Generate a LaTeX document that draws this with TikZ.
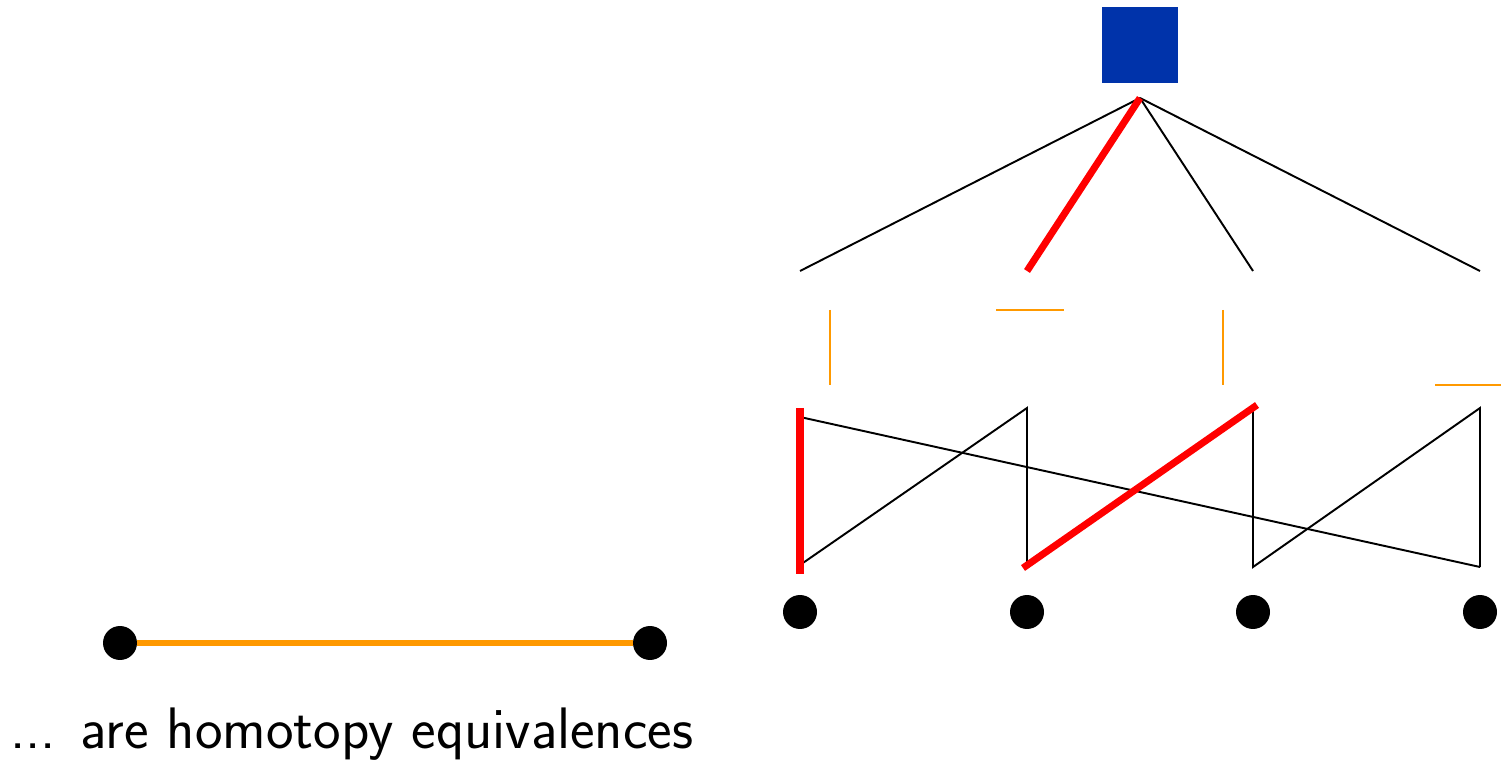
\documentclass[tikz,border=0pt]{standalone}
\definecolor{sqblue}{RGB}{0,51,170}
\definecolor{hor}{RGB}{255,153,0}
\tikzset{
  edge/.style={draw=black, line width=1.1pt},
  redge/.style={draw=red, line width=4pt},
  oedge/.style={draw=hor, line width=1.2pt},
  obig/.style={draw=hor, line width=3.4pt},
  dot/.style={circle, fill=black, minimum size=0.68cm, inner sep=0pt},
  sq/.style={rectangle, fill=sqblue, minimum size=1.52cm, inner sep=0pt},
}
\begin{document}
\begin{tikzpicture}[x=0.02cm, y=-0.02cm]
\useasboundingbox (0,0) rectangle (1501,763);
% top square and apex
\node[sq] (top) at (1140,45) {};
\coordinate (apex) at (1140,98);
% tops of upper edges
\coordinate (u1) at (800,271);
\coordinate (u2) at (1027,271);
\coordinate (u3) at (1253,271);
\coordinate (u4) at (1480,271);
\draw[edge] (apex) -- (u1);
\draw[edge] (apex) -- (u3);
\draw[edge] (apex) -- (u4);
\draw[redge] (apex) -- (u2);
% orange segments
\coordinate (o1a) at (830,310); \coordinate (o1b) at (830,385);
\coordinate (o2a) at (996,310); \coordinate (o2b) at (1064,310);
\coordinate (o3a) at (1223,310); \coordinate (o3b) at (1223,385);
\coordinate (o4a) at (1435,385); \coordinate (o4b) at (1501,385);
\draw[oedge] (o1a) -- (o1b);
\draw[oedge] (o2a) -- (o2b);
\draw[oedge] (o3a) -- (o3b);
\draw[oedge] (o4a) -- (o4b);
% lower zigzag
\coordinate (a1) at (800,417); \coordinate (b1) at (800,565);
\coordinate (a2) at (1027,408); \coordinate (b2) at (1027,567);
\coordinate (a3) at (1253,408); \coordinate (b3) at (1253,567);
\coordinate (a4) at (1480,408); \coordinate (b4) at (1480,567);
\draw[edge] (a1) -- (b4);
\draw[edge] (b1) -- (a2) -- (b2);
\draw[edge] (a3) -- (b3) -- (a4) -- (b4);
\coordinate (r1a) at (800,408); \coordinate (r1b) at (800,574);
\coordinate (r2a) at (1023,568); \coordinate (r2b) at (1257,405);
\draw[redge] (r1a) -- (r1b);
\draw[redge] (r2a) -- (r2b);
% dots
\node[dot] (d1) at (800,612) {};
\node[dot] (d2) at (1027,612) {};
\node[dot] (d3) at (1253,612) {};
\node[dot] (d4) at (1480,612) {};
% bottom left
\node[dot] (l) at (120,643) {};
\node[dot] (r) at (650,643) {};
\draw[obig] (l) -- (r);
\node[anchor=base west, inner sep=0pt, font=\sffamily\fontsize{33.3}{40}\selectfont] (txt) at (10,748) {... are homotopy equivalences};
\end{tikzpicture}
\end{document}
